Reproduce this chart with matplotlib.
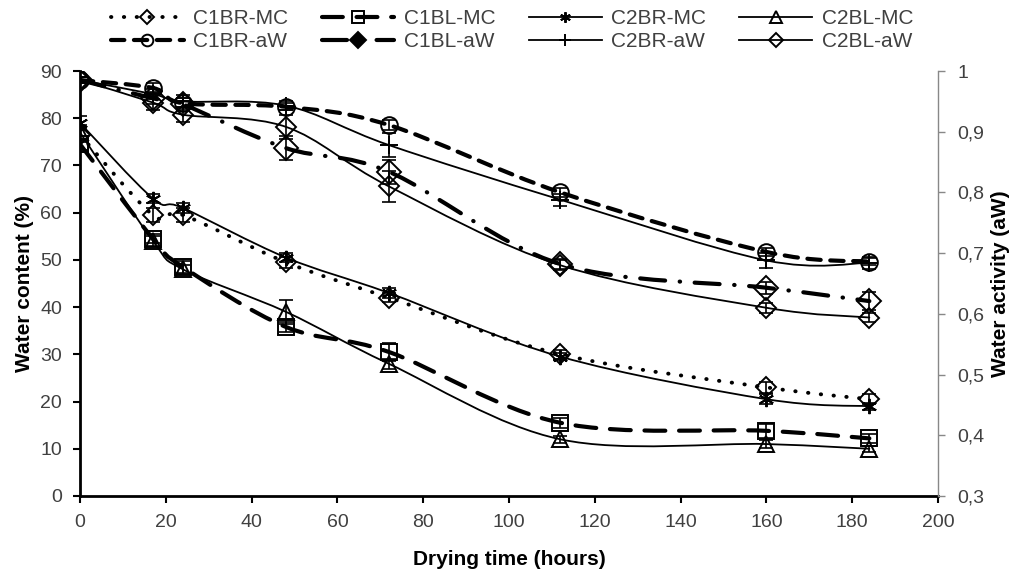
import matplotlib
matplotlib.use("Agg")
import matplotlib.pyplot as plt
from matplotlib.path import Path
from matplotlib.patches import PathPatch
from matplotlib.lines import Line2D
from matplotlib.ticker import FuncFormatter

plt.rcParams['font.family'] = ['Liberation Sans', 'DejaVu Sans']

# drying time (hours)
hours = [0, 17, 24, 48, 72, 112, 160, 184]

# water content (%), left axis
c1br_mc = [76.5, 59.5, 59.5, 49.5, 42.0, 30.0, 23.0, 20.5]
c1bl_mc = [74.5, 54.5, 48.5, 35.8, 30.5, 15.5, 13.8, 12.2]
c2br_mc = [79.0, 63.0, 61.0, 50.5, 43.0, 29.5, 20.5, 19.0]
c2bl_mc = [77.0, 54.0, 48.0, 39.0, 28.0, 12.0, 11.0, 10.0]
c1br_mc_err = [1.5, 1.5, 1.5, 1.2, 1.0, 1.0, 1.2, 1.0]
c1bl_mc_err = [1.2, 1.0, 1.2, 1.0, 2.0, 1.0, 1.5, 1.0]
c2br_mc_err = [1.5, 1.0, 1.0, 1.0, 1.0, 0.8, 1.0, 0.8]
c2bl_mc_err = [1.5, 1.0, 1.0, 2.5, 1.0, 0.8, 0.8, 0.6]

# water activity (aW), right axis
c1br_aw = [0.985, 0.972, 0.947, 0.941, 0.911, 0.800, 0.702, 0.686]
c1bl_aw = [0.985, 0.955, 0.945, 0.873, 0.834, 0.682, 0.643, 0.621]
c2br_aw = [0.985, 0.962, 0.950, 0.943, 0.878, 0.788, 0.688, 0.684]
c2bl_aw = [0.985, 0.948, 0.928, 0.908, 0.810, 0.680, 0.610, 0.594]
c1br_aw_err = [0.005, 0.008, 0.008, 0.006, 0.008, 0.008, 0.006, 0.006]
c1bl_aw_err = [0.005, 0.010, 0.010, 0.020, 0.020, 0.008, 0.010, 0.015]
c2br_aw_err = [0.005, 0.008, 0.010, 0.008, 0.020, 0.010, 0.012, 0.010]
c2bl_aw_err = [0.005, 0.012, 0.012, 0.020, 0.025, 0.008, 0.008, 0.008]

TXT = '#404040'


def smooth_path(xs, ys):
    # bezier segments like a spreadsheet "smoothed line"
    n = len(xs)
    verts = [(xs[0], ys[0])]
    codes = [Path.MOVETO]
    for i in range(n - 1):
        x0, y0 = (xs[i - 1], ys[i - 1]) if i > 0 else (xs[i], ys[i])
        x3, y3 = (xs[i + 2], ys[i + 2]) if i + 2 < n else (xs[i + 1], ys[i + 1])
        c1 = (xs[i] + (xs[i + 1] - x0) / 6, ys[i] + (ys[i + 1] - y0) / 6)
        c2 = (xs[i + 1] - (x3 - xs[i]) / 6, ys[i + 1] - (y3 - ys[i]) / 6)
        verts += [c1, c2, (xs[i + 1], ys[i + 1])]
        codes += [Path.CURVE4] * 3
    return Path(verts, codes)


def draw(ax, y, err, ls, lw, marker, ms, mfc, label, leg_fc=None):
    ax.add_patch(PathPatch(smooth_path(hours, y), fill=False, edgecolor='black',
                           linestyle=ls, linewidth=lw, capstyle='round'))
    ax.errorbar(hours, y, yerr=err, fmt='none', ecolor='black', elinewidth=1.2,
                capsize=5, capthick=1.2)
    ax.plot(hours, y, linestyle='none', marker=marker, markersize=ms,
            markerfacecolor=mfc, markeredgecolor='black', markeredgewidth=1.4)
    return Line2D([], [], color='black', linestyle=ls, linewidth=lw,
                  dash_capstyle='round', marker=marker, markersize=ms * 0.7,
                  markerfacecolor=leg_fc or mfc, markeredgecolor='black',
                  markeredgewidth=1.4, label=label)


fig = plt.figure(figsize=(10.21, 5.71), dpi=100)
ax = fig.add_axes([80 / 1021, 75 / 571, 858 / 1021, 425 / 571])
ax2 = ax.twinx()

dotted = (0, (0.1, 3.2))
dash_long = (0, (5, 3.3))
dash_short = (0, (3.2, 2.3))
dash_dot = (0, (6, 3.5, 0.1, 3.5))

h = {}
h['C1BR-MC'] = draw(ax, c1br_mc, c1br_mc_err, dotted, 2.8, 'D', 10, 'none', 'C1BR-MC')
h['C1BL-MC'] = draw(ax, c1bl_mc, c1bl_mc_err, dash_long, 3, 's', 12, 'none', 'C1BL-MC')
h['C2BR-MC'] = draw(ax, c2br_mc, c2br_mc_err, '-', 1.3, (6, 2, 0), 11, 'none', 'C2BR-MC')
h['C2BL-MC'] = draw(ax, c2bl_mc, c2bl_mc_err, '-', 1.3, '^', 12, 'none', 'C2BL-MC')
h['C1BR-aW'] = draw(ax2, c1br_aw, c1br_aw_err, dash_short, 3, 'o', 12, 'none', 'C1BR-aW')
h['C1BL-aW'] = draw(ax2, c1bl_aw, c1bl_aw_err, dash_dot, 3, 'D', 12, 'none', 'C1BL-aW', 'black')
h['C2BR-aW'] = draw(ax2, c2br_aw, c2br_aw_err, '-', 1.3, '+', 13, 'none', 'C2BR-aW')
h['C2BL-aW'] = draw(ax2, c2bl_aw, c2bl_aw_err, '-', 1.3, 'D', 10, 'none', 'C2BL-aW')

ax.set_xlim(0, 200)
ax.set_ylim(0, 90)
ax2.set_ylim(0.3, 1.0)
ax.set_xticks(range(0, 201, 20))
ax.set_yticks(range(0, 91, 10))
ax2.set_yticks([0.3, 0.4, 0.5, 0.6, 0.7, 0.8, 0.9, 1.0])
ax2.yaxis.set_major_formatter(FuncFormatter(lambda v, p: ('%g' % round(v, 1)).replace('.', ',')))

for a in (ax, ax2):
    a.spines['top'].set_visible(False)
ax.spines['left'].set_linewidth(2)
ax.spines['bottom'].set_linewidth(2)
ax.spines['right'].set_visible(False)
ax2.spines['left'].set_visible(False)
ax2.spines['bottom'].set_visible(False)
ax2.spines['right'].set_color('#888888')
ax2.spines['right'].set_linewidth(1)

ax.tick_params(axis='both', direction='out', length=5, width=1.5, labelsize=14,
               labelcolor=TXT, pad=8)
ax2.tick_params(axis='y', direction='out', length=5, width=1, color='#888888',
                labelsize=14, labelcolor=TXT, pad=9)

ax.set_xlabel('Drying time (hours)', fontsize=15, fontweight='bold')
ax.set_ylabel('Water content (%)', fontsize=15, fontweight='bold')
ax2.set_ylabel('Water activity (aW)', fontsize=15, fontweight='bold')
ax.xaxis.set_label_coords(0.5, (496 - 550) / 425)
ax.yaxis.set_label_coords((34 - 80) / 858, 0.5)
ax2.yaxis.set_label_coords((991 - 80) / 858, 0.5)

order = ['C1BR-MC', 'C1BR-aW', 'C1BL-MC', 'C1BL-aW',
         'C2BR-MC', 'C2BR-aW', 'C2BL-MC', 'C2BL-aW']
fig.legend([h[k] for k in order], order, ncol=4, loc='upper left',
           bbox_to_anchor=(92 / 1021, 1.017), frameon=False, fontsize=15,
           labelcolor=TXT, handlelength=3.5, handletextpad=0.45,
           columnspacing=1.6, labelspacing=0.2)

fig.savefig('out.png', dpi=100)
